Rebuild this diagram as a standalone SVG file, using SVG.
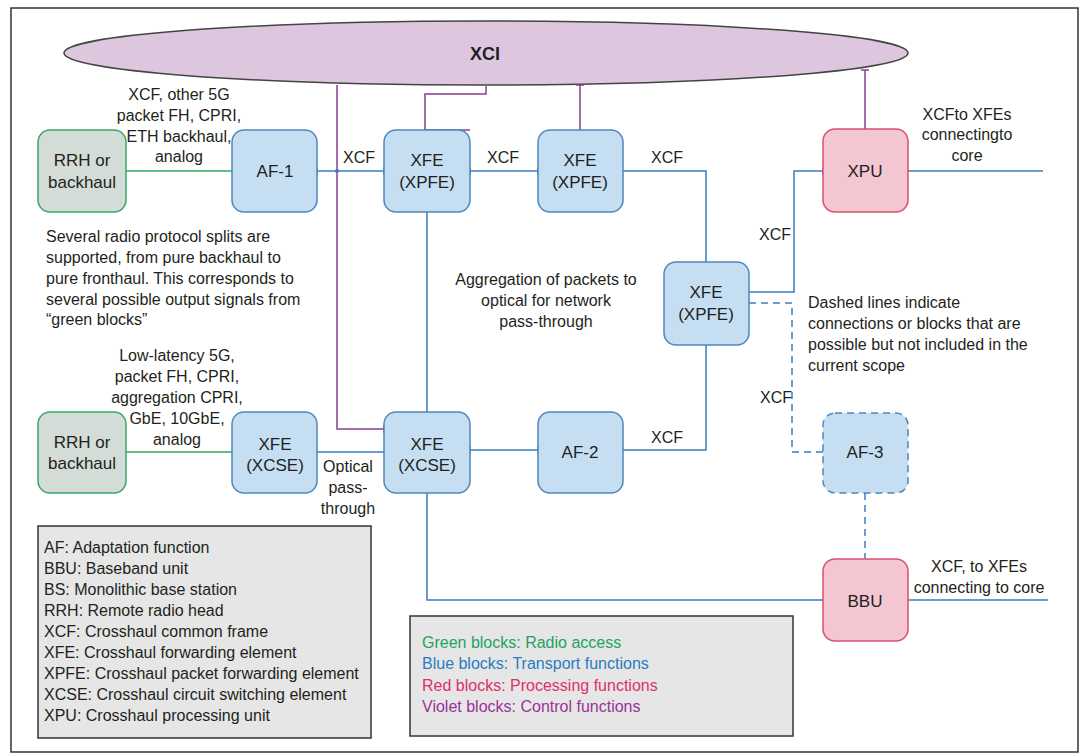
<svg xmlns="http://www.w3.org/2000/svg" width="1085" height="756" viewBox="0 0 1085 756">
<defs>
<style>
text{font-family:"Liberation Sans",Arial,sans-serif;fill:#231f20;font-size:16px}
.c{text-anchor:middle}
.bl{font-size:17px}
.blue{fill:#c5def2;stroke:#4d88bd;stroke-width:1.5}
.green{fill:#d3dcd6;stroke:#3aa66a;stroke-width:1.5}
.red{fill:#f3c6d1;stroke:#d9506f;stroke-width:1.5}
.lb{fill:none;stroke:#3a7dbf;stroke-width:1.5}
.lg{fill:none;stroke:#2eaa62;stroke-width:1.5}
.lp{fill:none;stroke:#8b3c94;stroke-width:1.5}
.dash{stroke-dasharray:7,5}
.tb{stroke:#3a7dbf;stroke-width:1.5}
.tp{stroke:#8b3c94;stroke-width:1.5}
.leg{fill:#e6e6e6;stroke:#333;stroke-width:1.5}
</style>
</defs>
<rect x="11" y="8" width="1067" height="744" fill="#fff" stroke="#333" stroke-width="1.5"/>

<g id="xci">
<ellipse cx="486" cy="53" rx="422" ry="32" fill="#dcc7de" stroke="#444" stroke-width="1.5"/>
<text x="485" y="60" class="c" style="font-weight:bold;font-size:18px">XCI</text>
</g>

<g id="connectors">
<!-- purple control -->
<path class="lp" d="M337,85 V429 H384"/>
<path class="lp" d="M486,86 V94 H425 V130"/>
<path class="lp" d="M580,85 V130"/>
<path class="lp" d="M865,70 V129"/>
<line class="tp" x1="384" y1="425" x2="384" y2="433"/>
<line class="tp" x1="576" y1="85" x2="584" y2="85"/>
<line class="tp" x1="861" y1="70" x2="869" y2="70"/>
<line class="tp" x1="425" y1="130" x2="470" y2="130"/>
<!-- green -->
<path class="lg" d="M126,171 H232"/>
<path class="lg" d="M126,452 H232"/>
<!-- blue -->
<path class="lb" d="M317,171 H384"/>
<circle cx="337" cy="171" r="2" fill="#3a7dbf"/>
<path class="lb" d="M470,171 H538"/>
<path class="lb" d="M623,171 H706 V262"/>
<path class="lb" d="M749,292 H794 V171 H823"/>
<path class="lb" d="M908,171 H1043"/>
<path class="lb" d="M427,212 V412"/>
<path class="lb" d="M706,345 V450 H623"/>
<path class="lb" d="M470,450 H538"/>
<path class="lb" d="M317,452 H384"/>
<path class="lb" d="M427,493 V600 H823"/>
<path class="lb" d="M908,600 H1048"/>
<path class="lb dash" d="M749,303 H792 V452 H823"/>
<path class="lb dash" d="M865,493 V559"/>
<!-- ticks -->
<line class="tb" x1="317" y1="167" x2="317" y2="175"/>
<line class="tb" x1="384" y1="167" x2="384" y2="175"/>
<line class="tb" x1="470" y1="167" x2="470" y2="175"/>
<line class="tb" x1="538" y1="167" x2="538" y2="175"/>
<line class="tb" x1="823" y1="167" x2="823" y2="175"/>
<line class="tb" x1="470" y1="446" x2="470" y2="454"/>
<line class="tb" x1="538" y1="446" x2="538" y2="454"/>
</g>

<g id="rrh1"><rect class="green" x="38" y="130" width="88" height="82" rx="12"/>
<text class="c bl" x="82" y="166">RRH or</text><text class="c bl" x="82" y="188">backhaul</text></g>
<g id="af1"><rect class="blue" x="232" y="130" width="85" height="82" rx="12"/>
<text class="c bl" x="275" y="177">AF-1</text></g>
<g id="xfe1"><rect class="blue" x="384" y="130" width="86" height="82" rx="12"/>
<text class="c bl" x="427" y="166">XFE</text><text class="c bl" x="427" y="188">(XPFE)</text></g>
<g id="xfe2"><rect class="blue" x="538" y="130" width="85" height="82" rx="12"/>
<text class="c bl" x="580" y="166">XFE</text><text class="c bl" x="580" y="188">(XPFE)</text></g>
<g id="xpu"><rect class="red" x="823" y="129" width="85" height="83" rx="12"/>
<text class="c bl" x="865" y="177">XPU</text></g>
<g id="xfe3"><rect class="blue" x="664" y="262" width="85" height="83" rx="12"/>
<text class="c bl" x="706" y="298">XFE</text><text class="c bl" x="706" y="320">(XPFE)</text></g>
<g id="rrh2"><rect class="green" x="38" y="412" width="88" height="81" rx="12"/>
<text class="c bl" x="82" y="448">RRH or</text><text class="c bl" x="82" y="469">backhaul</text></g>
<g id="xcse1"><rect class="blue" x="232" y="412" width="85" height="81" rx="12"/>
<text class="c bl" x="275" y="450">XFE</text><text class="c bl" x="275" y="471">(XCSE)</text></g>
<g id="xcse2"><rect class="blue" x="384" y="412" width="86" height="81" rx="12"/>
<text class="c bl" x="427" y="450">XFE</text><text class="c bl" x="427" y="471">(XCSE)</text></g>
<g id="af2"><rect class="blue" x="538" y="412" width="85" height="81" rx="12"/>
<text class="c bl" x="580" y="458">AF-2</text></g>
<g id="af3"><rect class="blue" x="823" y="413" width="85" height="80" rx="12" stroke-dasharray="7,5"/>
<text class="c bl" x="865" y="458">AF-3</text></g>
<g id="bbu"><rect class="red" x="823" y="559" width="85" height="82" rx="12"/>
<text class="c bl" x="865" y="607">BBU</text></g>

<g id="labels">
<text class="c" x="179" y="100">XCF, other 5G</text>
<text class="c" x="179" y="121">packet FH, CPRI,</text>
<text class="c" x="179" y="142">ETH backhaul,</text>
<text class="c" x="179" y="162">analog</text>
<text class="c" x="359" y="163">XCF</text>
<text class="c" x="503" y="163">XCF</text>
<text class="c" x="667" y="163">XCF</text>
<text class="c" x="967" y="120">XCFto XFEs</text>
<text class="c" x="967" y="140">connectingto</text>
<text class="c" x="967" y="161">core</text>
<text class="c" x="775" y="240">XCF</text>
<text x="46" y="242">Several radio protocol splits are</text>
<text x="46" y="263">supported, from pure backhaul to</text>
<text x="46" y="284">pure fronthaul. This corresponds to</text>
<text x="46" y="305">several possible output signals from</text>
<text x="46" y="325">“green blocks”</text>
<text class="c" x="546" y="285">Aggregation of packets to</text>
<text class="c" x="546" y="306">optical for network</text>
<text class="c" x="546" y="327">pass-through</text>
<text x="808" y="308">Dashed lines indicate</text>
<text x="808" y="329">connections or blocks that are</text>
<text x="808" y="350">possible but not included in the</text>
<text x="808" y="371">current scope</text>
<text class="c" x="776" y="403">XCF</text>
<text class="c" x="177" y="361">Low-latency 5G,</text>
<text class="c" x="177" y="382">packet FH, CPRI,</text>
<text class="c" x="177" y="403">aggregation CPRI,</text>
<text class="c" x="177" y="424">GbE, 10GbE,</text>
<text class="c" x="177" y="445">analog</text>
<text class="c" x="348" y="472">Optical</text>
<text class="c" x="348" y="493">pass-</text>
<text class="c" x="348" y="514">through</text>
<text class="c" x="667" y="443">XCF</text>
<text class="c" x="979" y="572">XCF, to XFEs</text>
<text class="c" x="979" y="593">connecting to core</text>
</g>

<g id="legend-abbrev">
<rect class="leg" x="38" y="526" width="333" height="212"/>
<text x="44" y="553">AF: Adaptation function</text>
<text x="44" y="574">BBU: Baseband unit</text>
<text x="44" y="595">BS: Monolithic base station</text>
<text x="44" y="616">RRH: Remote radio head</text>
<text x="44" y="637">XCF: Crosshaul common frame</text>
<text x="44" y="658">XFE: Crosshaul forwarding element</text>
<text x="44" y="679">XPFE: Crosshaul packet forwarding element</text>
<text x="44" y="700">XCSE: Crosshaul circuit switching element</text>
<text x="44" y="721">XPU: Crosshaul processing unit</text>
</g>
<g id="legend-colors">
<rect class="leg" x="410" y="616" width="383" height="120"/>
<text x="422" y="648" style="fill:#22a35e">Green blocks: Radio access</text>
<text x="422" y="669" style="fill:#2a7cc0">Blue blocks: Transport functions</text>
<text x="422" y="691" style="fill:#e0306a">Red blocks: Processing functions</text>
<text x="422" y="712" style="fill:#993399">Violet blocks: Control functions</text>
</g>
</svg>
